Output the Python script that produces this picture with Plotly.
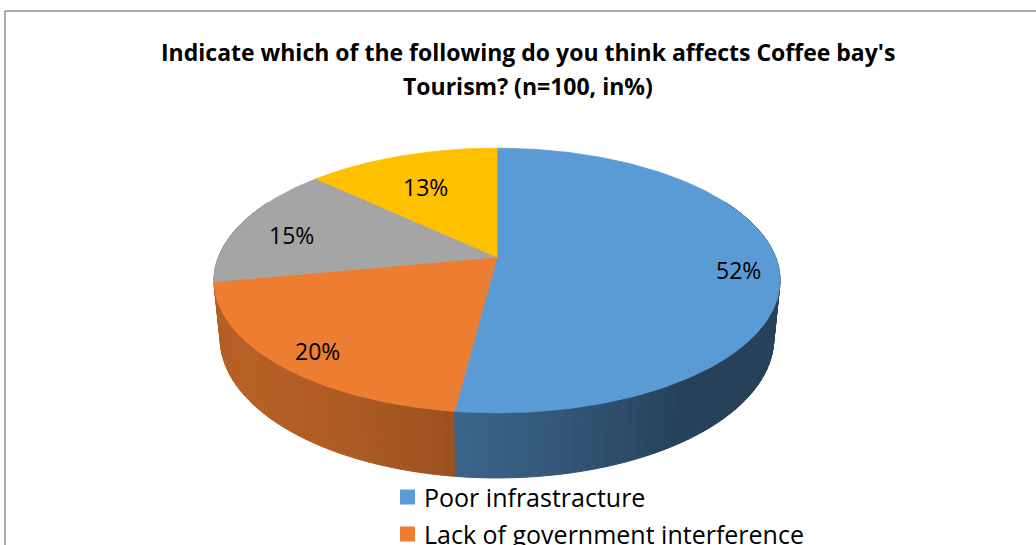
import math
import plotly.graph_objects as go

# Survey shares (percent), clockwise from 12 o'clock
categories = ["Poor infrastracture", "Lack of government interference", "Other (grey)", "Other (yellow)"]
values = [52, 20, 15, 13]
colors = ["#5b9bd5", "#ed7d31", "#a5a5a5", "#ffc000"]
legend_labels = ["Poor infrastracture", "Lack of government interference"]

title_lines = ["Indicate which of the following do you think affects Coffee bay's",
               "Tourism? (n=100, in%)"]

W, H = 1036, 545

# Perspective pie geometry (pixel space)
CX, CY = 497.0, 257.0
K = 278.5
ELEV = math.radians(27.4)
CE, SE = math.cos(ELEV), math.sin(ELEV)
D = 5.0
THICK = 0.236
LABEL_R = [0.86, 0.84, 0.80, 0.72]


def proj(X, Y, Z=0.0):
    s = D / (D - Y * CE - Z * SE)
    return CX + K * X * s, CY + K * (Y * SE - Z * CE) * s


def rim(theta_deg, r=1.0, z=0.0):
    t = math.radians(theta_deg)
    return proj(r * math.sin(t), -r * math.cos(t), z)


def shade(hex_color, f):
    h = hex_color.lstrip("#")
    r, g, b = (int(h[i:i + 2], 16) for i in (0, 2, 4))
    return "rgb({},{},{})".format(int(r * f), int(g * f), int(b * f))


total = float(sum(values))
bounds = []
acc = 0.0
for v in values:
    a0 = 360.0 * acc / total
    acc += v
    bounds.append((a0, 360.0 * acc / total))

fig = go.Figure()

# Side walls, built from small segments sorted back-to-front
segments = []
for i, (a0, a1) in enumerate(bounds):
    n = max(2, int((a1 - a0) / 2.0))
    for j in range(n):
        ta = a0 + (a1 - a0) * j / n
        tb = a0 + (a1 - a0) * (j + 1) / n
        tm = 0.5 * (ta + tb)
        depth = -math.cos(math.radians(tm))
        if depth < -0.45:
            continue
        f = 0.42 + 0.35 * max(0.0, math.cos(math.radians(tm - 235)))
        segments.append((depth, ta, tb, shade(colors[i], f)))

segments.sort(key=lambda s: s[0])
for depth, ta, tb, col in segments:
    p1 = rim(ta)
    p2 = rim(tb)
    p3 = rim(tb, z=-THICK)
    p4 = rim(ta, z=-THICK)
    xs = [p1[0], p2[0], p3[0], p4[0], p1[0]]
    ys = [p1[1], p2[1], p3[1], p4[1], p1[1]]
    fig.add_trace(go.Scatter(x=xs, y=ys, fill="toself", fillcolor=col, mode="lines",
                             line=dict(color=col, width=1), hoverinfo="skip",
                             showlegend=False))

# Top faces
for i, (a0, a1) in enumerate(bounds):
    n = max(8, int((a1 - a0) / 1.0))
    xs, ys = [CX], [CY]
    for j in range(n + 1):
        px, py = rim(a0 + (a1 - a0) * j / n)
        xs.append(px)
        ys.append(py)
    xs.append(CX)
    ys.append(CY)
    fig.add_trace(go.Scatter(x=xs, y=ys, fill="toself", fillcolor=colors[i], mode="lines",
                             line=dict(color=colors[i], width=0.8), name=categories[i],
                             hoverinfo="name", showlegend=False))

# Percentage labels
for i, (a0, a1) in enumerate(bounds):
    lx, ly = rim(0.5 * (a0 + a1), r=LABEL_R[i])
    fig.add_annotation(x=lx, y=ly, text="{}%".format(values[i]), showarrow=False,
                       font=dict(family="Open Sans", size=23, color="#000000"),
                       xanchor="center", yanchor="middle", yshift=-6)

# Title
for k, line in enumerate(title_lines):
    fig.add_annotation(x=528, y=52 + 34 * k, text="<b>{}</b>".format(line), showarrow=False,
                       font=dict(family="Open Sans", size=23, color="#000000"),
                       xanchor="center", yanchor="middle")

# Legend entries
for k, lab in enumerate(legend_labels):
    yc = 497 + 37 * k
    fig.add_shape(type="rect", x0=400, x1=415, y0=yc - 7.5, y1=yc + 7.5,
                  fillcolor=colors[k], line=dict(width=0), layer="above")
    fig.add_annotation(x=422, y=yc, text=lab, showarrow=False,
                       font=dict(family="Open Sans", size=25, color="#000000"),
                       xanchor="left", yanchor="middle")

# Chart frame
fig.add_shape(type="line", x0=5, x1=W, y0=11, y1=11, line=dict(color="#8c8c8c", width=1.5))
fig.add_shape(type="line", x0=5, x1=5, y0=11, y1=H, line=dict(color="#8c8c8c", width=1.5))

fig.update_layout(
    width=W, height=H,
    margin=dict(l=0, r=0, t=0, b=0),
    paper_bgcolor="#ffffff", plot_bgcolor="#ffffff",
    xaxis=dict(range=[0, W], visible=False, fixedrange=True),
    yaxis=dict(range=[H, 0], visible=False, fixedrange=True),
)

fig.write_html("out.html")
